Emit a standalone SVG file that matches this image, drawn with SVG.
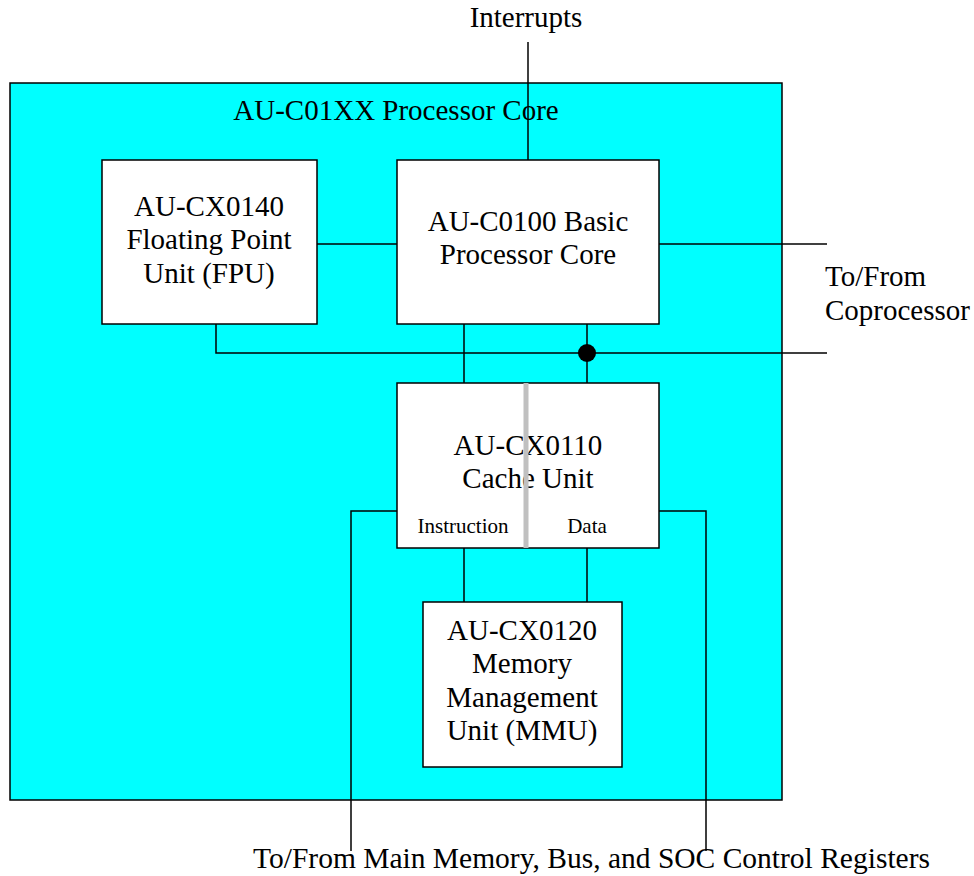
<svg xmlns="http://www.w3.org/2000/svg" width="974" height="876" viewBox="0 0 974 876">
  <style>
    .box { fill: #ffffff; stroke: #000000; stroke-width: 1.5; }
    .core { fill: #00ffff; stroke: #000000; stroke-width: 1.5; }
    .wire { fill: none; stroke: #000000; stroke-width: 1.5; }
    .t { font-family: "Liberation Serif", "Times New Roman", serif; font-size: 29px; fill: #000000; text-anchor: middle; }
    .s { font-family: "Liberation Serif", "Times New Roman", serif; font-size: 21px; fill: #000000; text-anchor: middle; }
    .l { text-anchor: start; }
  </style>
  <rect x="0" y="0" width="974" height="876" fill="#ffffff"/>

  <g id="processor-core">
    <rect class="core" x="10" y="83" width="772" height="717"/>
    <text class="t" x="396" y="120">AU-C01XX Processor Core</text>
  </g>

  <g id="connectors">
    <line class="wire" x1="528" y1="42" x2="528" y2="160"/>
    <line class="wire" x1="317" y1="244" x2="397" y2="244"/>
    <line class="wire" x1="659" y1="244" x2="827" y2="244"/>
    <polyline class="wire" points="216,324 216,353 827,353"/>
    <line class="wire" x1="464" y1="324" x2="464" y2="383"/>
    <line class="wire" x1="587" y1="324" x2="587" y2="383"/>
    <circle cx="587" cy="353" r="9" fill="#000000"/>
    <line class="wire" x1="464" y1="548" x2="464" y2="602"/>
    <line class="wire" x1="587" y1="548" x2="587" y2="602"/>
    <polyline class="wire" points="397,511 351,511 351,851"/>
    <polyline class="wire" points="659,511 706,511 706,851"/>
  </g>

  <g id="fpu">
    <rect class="box" x="102" y="160" width="215" height="164"/>
    <text class="t" x="209" y="216">AU-CX0140</text>
    <text class="t" x="209" y="249">Floating Point</text>
    <text class="t" x="209" y="283">Unit (FPU)</text>
  </g>

  <g id="basic-core">
    <rect class="box" x="397" y="160" width="262" height="164"/>
    <text class="t" x="528" y="231">AU-C0100 Basic</text>
    <text class="t" x="528" y="264">Processor Core</text>
  </g>

  <g id="cache-unit">
    <rect class="box" x="397" y="383" width="262" height="165"/>
    <text class="t" x="528" y="455">AU-CX0110</text>
    <text class="t" x="528" y="488">Cache Unit</text>
    <text class="s" x="463" y="533">Instruction</text>
    <text class="s" x="587" y="533">Data</text>
    <rect x="523.5" y="383" width="5" height="165" fill="#c0c0c0"/>
  </g>

  <g id="mmu">
    <rect class="box" x="423" y="602" width="199" height="165"/>
    <text class="t" x="522" y="640">AU-CX0120</text>
    <text class="t" x="522" y="673">Memory</text>
    <text class="t" x="522" y="707">Management</text>
    <text class="t" x="522" y="740">Unit (MMU)</text>
  </g>

  <g id="labels">
    <text class="t" x="526" y="27">Interrupts</text>
    <text class="t l" x="825" y="286">To/From</text>
    <text class="t l" x="825" y="320">Coprocessor</text>
    <text class="t l" x="253" y="868" style="font-size:29.5px">To/From Main Memory, Bus, and SOC Control Registers</text>
  </g>
</svg>
